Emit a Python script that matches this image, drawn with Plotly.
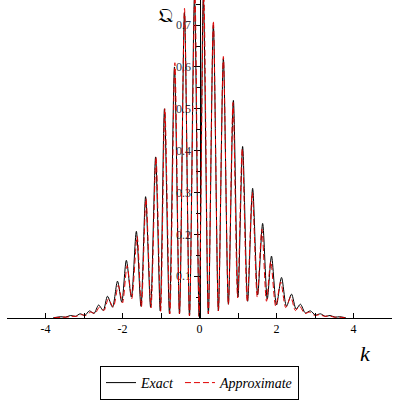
import plotly.graph_objects as go

# k positions and values (troughs and peaks, left to right)
k_exact = [-3.80, -3.60, -3.48, -3.35, -3.22, -3.10, -2.98, -2.86, -2.74, -2.62,
           -2.50, -2.39, -2.26, -2.13, -2.02, -1.90, -1.77, -1.64, -1.52, -1.40,
           -1.27, -1.14, -1.02, -0.91, -0.78, -0.65, -0.52, -0.39, -0.26, -0.13,
           -0.01, 0.10, 0.23, 0.36, 0.49, 0.62, 0.75, 0.88, 1.00, 1.12,
           1.25, 1.38, 1.51, 1.64, 1.76, 1.87, 2.00, 2.13, 2.26, 2.39,
           2.51, 2.62, 2.75, 2.88, 3.01, 3.14, 3.27, 3.39, 3.52, 3.64, 3.80]
q_exact = [0.0005, 0.003, 0.002, 0.006, 0.004, 0.010, 0.006, 0.017, 0.011, 0.031,
           0.018, 0.052, 0.026, 0.088, 0.038, 0.138, 0.050, 0.207, 0.028, 0.290,
           0.026, 0.385, 0.017, 0.500, 0.010, 0.600, 0.010, 0.730, 0.005, 0.770,
           0.004, 0.770, 0.010, 0.700, 0.017, 0.620, 0.033, 0.520, 0.050, 0.410,
           0.040, 0.310, 0.055, 0.226, 0.045, 0.148, 0.031, 0.097, 0.028, 0.057,
           0.021, 0.033, 0.012, 0.017, 0.007, 0.010, 0.004, 0.006, 0.002, 0.003, 0.0005]

k_approx = [-3.78, -3.57, -3.45, -3.32, -3.20, -3.07, -2.95, -2.83, -2.71, -2.60,
            -2.48, -2.37, -2.24, -2.11, -2.00, -1.88, -1.76, -1.62, -1.51, -1.39,
            -1.26, -1.13, -1.01, -0.90, -0.77, -0.64, -0.52, -0.39, -0.26, -0.12,
            -0.01, 0.11, 0.23, 0.36, 0.49, 0.62, 0.75, 0.87, 0.99, 1.11,
            1.24, 1.37, 1.50, 1.62, 1.74, 1.85, 1.98, 2.11, 2.24, 2.37,
            2.49, 2.60, 2.73, 2.86, 2.99, 3.12, 3.25, 3.37, 3.50, 3.62, 3.78]
q_approx = [0.0005, 0.002, 0.002, 0.004, 0.004, 0.008, 0.006, 0.014, 0.011, 0.026,
            0.018, 0.045, 0.026, 0.078, 0.036, 0.125, 0.046, 0.195, 0.026, 0.285,
            0.024, 0.385, 0.016, 0.500, 0.010, 0.610, 0.010, 0.740, 0.005, 0.780,
            0.004, 0.780, 0.010, 0.710, 0.017, 0.625, 0.032, 0.515, 0.048, 0.405,
            0.038, 0.300, 0.050, 0.212, 0.040, 0.135, 0.028, 0.086, 0.025, 0.050,
            0.018, 0.028, 0.011, 0.014, 0.006, 0.008, 0.004, 0.005, 0.002, 0.002, 0.0005]

x_ticks = [-4, -2, 0, 2, 4]
y_ticks = [0.1, 0.2, 0.3, 0.4, 0.5, 0.6, 0.7]

serif = "Liberation Serif, Times New Roman, serif"

fig = go.Figure()

fig.add_trace(go.Scatter(x=k_exact, y=q_exact, mode='lines', name='Exact',
                         line=dict(color='black', width=1, shape='spline', smoothing=0.8)))
fig.add_trace(go.Scatter(x=k_approx, y=q_approx, mode='lines', name='Approximate',
                         line=dict(color='#e00000', width=1, dash='6px,3px',
                                   shape='spline', smoothing=0.8)))

fig.update_layout(
    width=400, height=400,
    margin=dict(l=7, r=8, t=0, b=81),
    paper_bgcolor='white', plot_bgcolor='white',
    showlegend=True,
    legend=dict(orientation='h', x=0.5, xanchor='center', y=-0.15, yanchor='top',
                bordercolor='black', borderwidth=1,
                font=dict(family=serif, size=14, color='black', style='italic'),
                itemwidth=30, tracegroupgap=0),
    xaxis=dict(range=[-5, 5], showgrid=False, zeroline=False,
               showline=True, linecolor='black', linewidth=1,
               tickmode='array', tickvals=x_ticks, ticktext=[str(v) for v in x_ticks],
               ticks='inside', ticklen=5, tickcolor='black',
               minor=dict(dtick=1, tick0=0, ticks='inside', ticklen=5, tickcolor='black'),
               tickfont=dict(family=serif, size=12, color='black')),
    yaxis=dict(range=[0, 0.76], showgrid=False, zeroline=False,
               anchor='free', position=0.5,
               showline=True, linecolor='black', linewidth=1,
               tickmode='array', tickvals=y_ticks, ticktext=[f"{v:.1f}" for v in y_ticks],
               ticks='outside', ticklen=6, tickcolor='black',
               minor=dict(dtick=0.05, tick0=0, ticks='outside', ticklen=4, tickcolor='black'),
               tickfont=dict(family=serif, size=12, color='#333344'),
               layer='below traces'),
    annotations=[
        dict(text='k', xref='paper', yref='paper', x=(365 - 7) / 385, y=-(355 - 319) / 319,
             xanchor='center', yanchor='middle', showarrow=False,
             font=dict(family=serif, size=22, color='black', style='italic')),
        dict(text='𝔔', xref='paper', yref='paper', x=(165 - 7) / 385, y=(319 - 15) / 319,
             xanchor='center', yanchor='middle', showarrow=False,
             font=dict(family='DejaVu Serif, DejaVu Sans, serif', size=20, color='black')),
    ],
)

# drop the page's default body margin so the figure sits at the window corner
fig.write_html("out.html", config={'displayModeBar': False},
               post_script="document.body.style.margin='0';")
